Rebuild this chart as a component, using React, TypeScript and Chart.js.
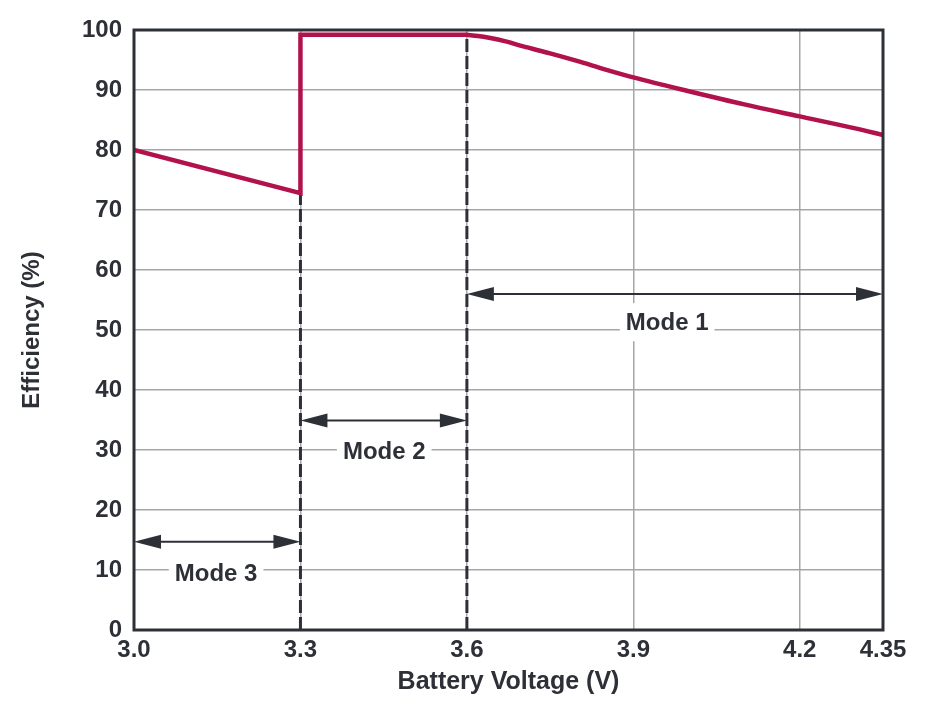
import React, { useEffect, useRef } from 'react';
import { Chart, registerables } from 'chart.js';

Chart.register(...registerables);

// ---- Data ----
const voltage = [3.0, 3.3, 3.3, 3.6, 3.62, 3.64, 3.67, 3.7, 3.75, 3.8, 3.85, 3.9, 4.0, 4.1, 4.2, 4.3, 4.35];
const efficiency = [80, 72.8, 99.2, 99.2, 99.0, 98.7, 98.1, 97.3, 96.1, 94.8, 93.4, 92.1, 89.8, 87.6, 85.6, 83.6, 82.5];
// index where the smooth Mode-1 roll-off begins
const rollOffStart = 3;

const xTickValues = [3.0, 3.3, 3.6, 3.9, 4.2, 4.35];
const xTickLabels = ['3.0', '3.3', '3.6', '3.9', '4.2', '4.35'];

const thresholdVoltage = [3.3, 3.6];
const thresholdTop = [72.8, 99.2];

const modeLabels = ['Mode 1', 'Mode 2', 'Mode 3'];
const modeStart = [3.6, 3.3, 3.0];
const modeEnd = [4.35, 3.6, 3.3];
const arrowLevel = [56, 34.9, 14.7];
const labelVoltage = [3.961, 3.451, 3.148];
const labelLevel = [51.3, 29.7, 9.5];

const DARK = '#2e3037';
const RED = '#b2124b';
const GRID = '#a6a6a6';
const FONT = '"Liberation Sans", Arial, sans-serif';

const annotPlugin = {
  id: 'modeAnnotations',
  afterDatasetsDraw(chart: any) {
    const { ctx, chartArea, scales } = chart;
    const { left, right, top, bottom } = chartArea;
    const x = scales.x;
    const y = scales.y;
    ctx.save();
    // frame
    ctx.strokeStyle = DARK;
    ctx.lineWidth = 3;
    ctx.strokeRect(left, top, right - left, bottom - top);

    // arrows
    const headLen = 27;
    const headHalf = 7;
    ctx.fillStyle = DARK;
    ctx.strokeStyle = DARK;
    for (let i = 0; i < modeLabels.length; i++) {
      const x1 = x.getPixelForValue(modeStart[i]);
      const x2 = x.getPixelForValue(modeEnd[i]);
      const yy = y.getPixelForValue(arrowLevel[i]);
      ctx.lineWidth = 2;
      ctx.beginPath();
      ctx.moveTo(x1 + headLen - 2, yy);
      ctx.lineTo(x2 - headLen + 2, yy);
      ctx.stroke();
      ctx.beginPath();
      ctx.moveTo(x1, yy);
      ctx.lineTo(x1 + headLen, yy - headHalf);
      ctx.lineTo(x1 + headLen, yy + headHalf);
      ctx.closePath();
      ctx.fill();
      ctx.beginPath();
      ctx.moveTo(x2, yy);
      ctx.lineTo(x2 - headLen, yy - headHalf);
      ctx.lineTo(x2 - headLen, yy + headHalf);
      ctx.closePath();
      ctx.fill();
    }

    // labels
    ctx.font = `bold 24px ${FONT}`;
    ctx.textAlign = 'center';
    ctx.textBaseline = 'middle';
    for (let i = 0; i < modeLabels.length; i++) {
      const cx = x.getPixelForValue(labelVoltage[i]);
      const cy = y.getPixelForValue(labelLevel[i]);
      const w = ctx.measureText(modeLabels[i]).width;
      ctx.fillStyle = '#ffffff';
      ctx.fillRect(cx - w / 2 - 6, cy - 19, w + 12, 38);
      ctx.fillStyle = DARK;
      ctx.fillText(modeLabels[i], cx, cy + 1);
    }
    ctx.restore();
  },
};

export default function App() {
  const canvasRef = useRef<HTMLCanvasElement | null>(null);

  useEffect(() => {
    const canvas = canvasRef.current;
    if (!canvas) return;
    const points = voltage.map((v, i) => ({ x: v, y: efficiency[i] }));
    const steppedPart = points.slice(0, rollOffStart + 1);
    const smoothPart = points.slice(rollOffStart);
    const dashSets = thresholdVoltage.map((v, i) => ({
      label: `threshold ${v}`,
      data: [
        { x: v, y: 0 },
        { x: v, y: thresholdTop[i] },
      ],
      borderColor: DARK,
      borderWidth: 3,
      borderDash: [13, 4],
      pointRadius: 0,
      order: 3,
    }));

    const chart = new Chart(canvas, {
      type: 'line',
      data: {
        datasets: [
          {
            label: 'Efficiency (Modes 3 and 2)',
            data: steppedPart,
            borderColor: RED,
            borderWidth: 4.5,
            pointRadius: 0,
            tension: 0,
            borderJoinStyle: 'miter',
            borderCapStyle: 'butt',
            order: 1,
          },
          {
            label: 'Efficiency (Mode 1)',
            data: smoothPart,
            borderColor: RED,
            borderWidth: 4.5,
            pointRadius: 0,
            cubicInterpolationMode: 'monotone',
            borderCapStyle: 'round',
            order: 2,
          },
          ...dashSets,
        ] as any,
      },
      options: {
        animation: false,
        responsive: true,
        maintainAspectRatio: false,
        layout: { padding: { left: 0, right: 47, top: 30, bottom: 0 } },
        plugins: {
          legend: { display: false },
          tooltip: { enabled: false },
        },
        scales: {
          x: {
            type: 'linear',
            min: 3.0,
            max: 4.35,
            afterBuildTicks: (scale: any) => {
              scale.ticks = xTickValues.map((v) => ({ value: v }));
            },
            afterFit: (scale: any) => {
              scale.height = 86;
            },
            ticks: {
              autoSkip: false,
              maxRotation: 0,
              padding: 6,
              color: DARK,
              font: { family: FONT, size: 24, weight: 'bold' },
              callback: (value: any) => {
                const idx = xTickValues.findIndex((t) => Math.abs(t - value) < 1e-6);
                return idx >= 0 ? xTickLabels[idx] : '';
              },
            },
            grid: { color: GRID, lineWidth: 1.5, drawTicks: false },
            border: { display: false },
            title: {
              display: true,
              text: 'Battery Voltage (V)',
              color: DARK,
              font: { family: FONT, size: 25, weight: 'bold' },
              padding: { top: 0, bottom: 19 },
            },
          },
          y: {
            type: 'linear',
            min: 0,
            max: 100,
            afterFit: (scale: any) => {
              scale.width = 134;
            },
            ticks: {
              stepSize: 10,
              padding: 12,
              color: DARK,
              font: { family: FONT, size: 24, weight: 'bold' },
            },
            grid: { color: GRID, lineWidth: 1.5, drawTicks: false },
            border: { display: false },
            title: {
              display: true,
              text: 'Efficiency (%)',
              color: DARK,
              font: { family: FONT, size: 24, weight: 'bold' },
              padding: { top: 18, bottom: 0 },
            },
          },
        },
      } as any,
      plugins: [annotPlugin],
    });
    return () => chart.destroy();
  }, []);

  return (
    <div style={{ position: 'fixed', left: 0, top: 0, width: 930, height: 716, background: '#fff' }}>
      <canvas ref={canvasRef} />
    </div>
  );
}
